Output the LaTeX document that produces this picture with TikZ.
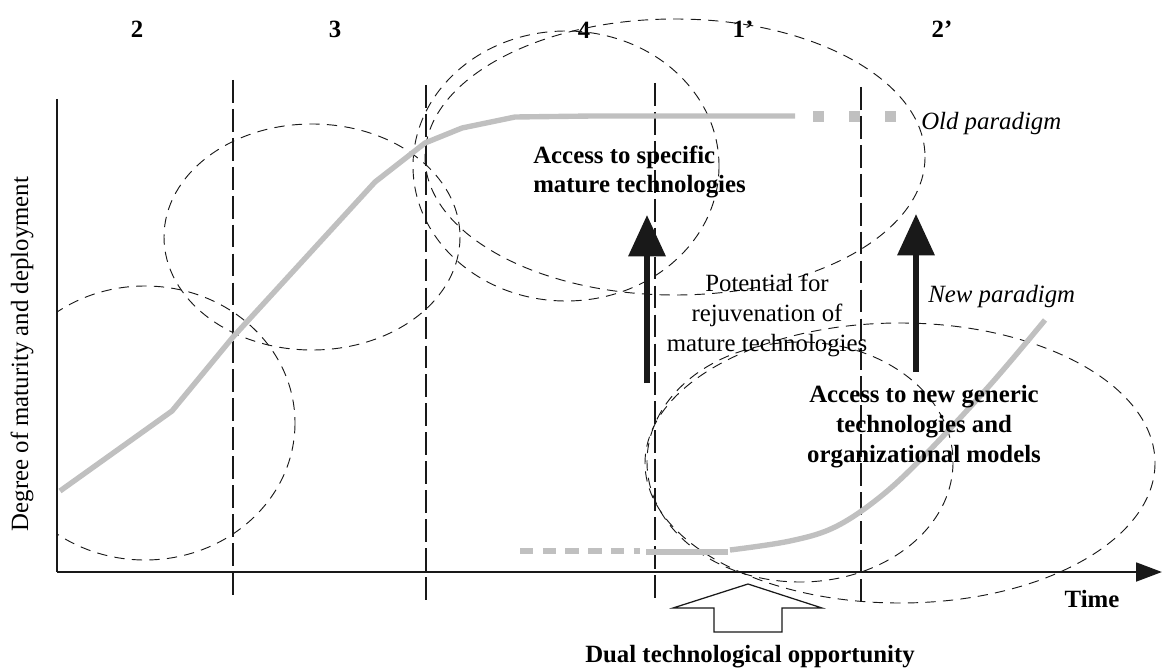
\documentclass[tikz,border=0pt]{standalone}
\usepackage{fontspec}
\setmainfont{Liberation Serif}
\usetikzlibrary{arrows.meta, positioning}
\definecolor{curvegray}{RGB}{192,192,192}
\definecolor{inkblack}{RGB}{25,25,25}

\begin{document}
\begin{tikzpicture}[
    x=0.017cm, y=-0.017cm,
    zone/.style={draw=inkblack, dash pattern=on 5pt off 3.5pt, line width=0.45pt},
    divider/.style={draw=inkblack, dash pattern=on 11pt off 3pt, line width=0.6pt},
    paradigm/.style={draw=curvegray, line width=2.6pt},
    axis/.style={draw=inkblack, line width=1.4pt},
    phase/.style={font=\fontsize{12}{14.5}\selectfont\bfseries},
    bold/.style={font=\fontsize{12}{14.5}\selectfont\bfseries, align=center},
    plain/.style={font=\fontsize{12}{14.5}\selectfont, align=center},
    tag/.style={font=\fontsize{12}{14.5}\selectfont\itshape, anchor=west},
    push/.style={draw=inkblack, line width=2.9pt, -{Triangle[length=20pt,width=17.5pt]}},
]
    \useasboundingbox (0,0) rectangle (1162,671);

    % axes
    \coordinate (origin) at (57,572);
    \coordinate (ytop) at (57,99);
    \coordinate (xend) at (1162,572);
    \draw[axis] (ytop) -- (origin);
    \draw[axis, -{Triangle[length=12.5pt,width=9pt]}] (origin) -- (xend);

    % phase dividers
    \foreach \dx/\top/\bot in {233/80/600, 426/85/604, 655/83/602, 861/87/605}
        \draw[divider] (\dx,\top) -- (\dx,\bot);

    \node[phase] (ph2) at (137,29) {2};
    \node[phase] (ph3) at (335,29) {3};
    \node[phase] (ph4) at (584,30) {4};
    \node[phase] (ph1n) at (743,29) {1’};
    \node[phase] (ph2n) at (942,29) {2’};

    % dashed zones
    \begin{scope}
        \clip (57,0) rectangle (1162,671);
        \draw[zone] (145,423) ellipse [x radius=150, y radius=137];
    \end{scope}
    \draw[zone] (312,237) ellipse [x radius=148, y radius=113];
    \draw[zone] (566,166) ellipse [x radius=153, y radius=135];
    \draw[zone] (675,157) ellipse [x radius=250, y radius=138];
    \draw[zone] (800,462) ellipse [x radius=153, y radius=120];
    \draw[zone] (900,463) ellipse [x radius=255, y radius=140];

    % old paradigm
    \draw[paradigm, line join=round] (60,491) -- (172,411) -- (233,337) -- (375,182)
        -- (425,143) -- (462,128) -- (515,117) -- (593,116) -- (795,116);
    \foreach \sx in {818,854,890}
        \fill[curvegray] (\sx-5.5,111) rectangle (\sx+5.5,122);

    % new paradigm
    \draw[paradigm, dash pattern=on 6.5pt off 4.5pt] (520,551) -- (640,551);
    \draw[paradigm] (646,552) -- (728,552);
    \draw[paradigm] plot[smooth, tension=0.6] coordinates {(730,550) (790,541) (835,527)
        (880,497) (925,455) (990,385) (1045,320)};

    % upward arrows
    \coordinate (olds) at (647,383);
    \coordinate (oldt) at (647,215);
    \coordinate (news) at (916,372);
    \coordinate (newt) at (916,214);
    \draw[push] (olds) -- (oldt);
    \draw[push] (news) -- (newt);

    % dual opportunity arrow
    \draw[draw=inkblack, line width=0.6pt] (714,632) -- (714,608) -- (673,608) -- (748,584)
        -- (822,608) -- (782,608) -- (782,632) -- cycle;

    \node[bold, align=left, anchor=west] (spec) at (526,172) {Access to specific\\mature technologies};
    \node[plain] (rejuv) at (767,315) {Potential for\\rejuvenation of\\mature technologies};
    \node[bold] (generic) at (924,427) {Access to new generic\\technologies and\\organizational models};
    \node[tag] (oldp) at (914,124) {Old paradigm};
    \node[tag] (newp) at (921,297) {New paradigm};
    \node[phase] (time) at (1092,599) {Time};
    \node[phase] (dual) at (750,657) {Dual technological opportunity};
    \node[plain, rotate=90] (ylab) at (22,354) {Degree of maturity and deployment};
\end{tikzpicture}
\end{document}
